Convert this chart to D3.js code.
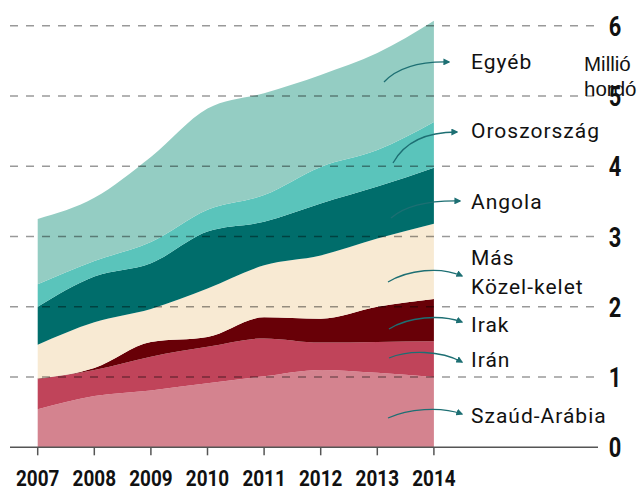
<!DOCTYPE html>
<html>
<head>
<meta charset="utf-8">
<script src="https://cdn.jsdelivr.net/npm/d3@7"></script>
<style>
  body { margin: 0; background: #fff; }
  .num { font-family: Roboto, "DejaVu Sans", sans-serif; font-weight: bold; fill: #111; }
  .lab { font-family: Roboto, "DejaVu Sans", sans-serif; font-size: 21px; letter-spacing: 1px; fill: #111; }
</style>
</head>
<body>
<div id="chart"></div>
<script>
// data (million barrels per day)
var years = [2007, 2008, 2009, 2010, 2011, 2012, 2013, 2014];
var szaud  = [0.54, 0.73, 0.81, 0.91, 1.01, 1.10, 1.06, 1.00];
var iran   = [0.43, 0.37, 0.48, 0.52, 0.54, 0.39, 0.44, 0.51];
var irak   = [0.01, 0.03, 0.21, 0.14, 0.30, 0.34, 0.50, 0.60];
var kozel  = [0.48, 0.65, 0.47, 0.69, 0.74, 0.90, 0.97, 1.07];
var angola = [0.54, 0.65, 0.65, 0.81, 0.62, 0.74, 0.74, 0.80];
var orosz  = [0.32, 0.22, 0.30, 0.31, 0.38, 0.52, 0.52, 0.65];
var egyeb  = [0.93, 0.90, 1.21, 1.44, 1.45, 1.31, 1.38, 1.44];
var seriesNames = ['Szaúd-Arábia', 'Irán', 'Irak', 'Más Közel-kelet', 'Angola', 'Oroszország', 'Egyéb'];
var yTicks = [0, 1, 2, 3, 4, 5, 6];

var colors = ['#d4838f', '#c0445a', '#680007', '#f8ead3', '#006d6b', '#5ac4bb', '#94cdc3'];

var width = 638, height = 488;
var svg = d3.select('#chart').append('svg')
  .attr('width', width)
  .attr('height', height);

var x = d3.scaleLinear().domain([2007, 2014]).range([37.7, 433.9]);
var y = d3.scaleLinear().domain([0, 6]).range([447.3, 25.7]);

// build table for the stack
var cols = [szaud, iran, irak, kozel, angola, orosz, egyeb];
var table = years.map(function(yr, i) {
  var row = {year: yr};
  seriesNames.forEach(function(n, j) { row[n] = cols[j][i]; });
  return row;
});
var stacked = d3.stack().keys(seriesNames)(table);

var area = d3.area()
  .curve(d3.curveMonotoneX)
  .x(function(d) { return x(d.data.year); })
  .y0(function(d) { return y(d[0]); })
  .y1(function(d) { return y(d[1]); });

svg.append('g').selectAll('path')
  .data(stacked)
  .join('path')
  .attr('d', area)
  .attr('fill', function(d, i) { return colors[i]; });

// dashed gridlines drawn over the areas
svg.append('g').selectAll('line')
  .data(yTicks.filter(function(t) { return t > 0; }))
  .join('line')
  .attr('x1', 10).attr('x2', 598)
  .attr('y1', function(d) { return y(d); })
  .attr('y2', function(d) { return y(d); })
  .attr('stroke', '#000')
  .attr('stroke-opacity', 0.4)
  .attr('stroke-width', 1.4)
  .attr('stroke-dasharray', '8,8');

// x axis
svg.append('line')
  .attr('x1', 10).attr('x2', 598)
  .attr('y1', y(0)).attr('y2', y(0))
  .attr('stroke', '#555').attr('stroke-width', 1.5);

svg.append('g').selectAll('line')
  .data(years)
  .join('line')
  .attr('x1', function(d) { return x(d); })
  .attr('x2', function(d) { return x(d); })
  .attr('y1', y(0)).attr('y2', y(0) + 8)
  .attr('stroke', '#555').attr('stroke-width', 1.5);

// condensed look: squeeze the digits horizontally
svg.append('g').selectAll('text')
  .data(years)
  .join('text')
  .attr('class', 'num')
  .attr('transform', function(d) { return 'translate(' + x(d) + ',486) scale(0.86,1)'; })
  .attr('text-anchor', 'middle')
  .style('font-size', '22px')
  .text(function(d) { return d; });

// y labels on the right
svg.append('g').selectAll('text')
  .data(yTicks)
  .join('text')
  .attr('class', 'num')
  .attr('transform', function(d) { return 'translate(615,' + (y(d) + 10) + ') scale(0.78,1)'; })
  .attr('text-anchor', 'middle')
  .style('font-size', '28px')
  .text(function(d) { return d; });

svg.append('text')
  .attr('x', 584).attr('y', 71)
  .style('font-family', '"Liberation Sans", Arial, sans-serif')
  .style('font-size', '20.5px')
  .attr('fill', '#111')
  .text('Millió');
svg.append('text')
  .attr('x', 584).attr('y', 96)
  .style('font-family', '"Liberation Sans", Arial, sans-serif')
  .style('font-size', '20.5px')
  .attr('fill', '#111')
  .text('hordó');

// labels with curved arrows
var notes = [
  {lines: ['Egyéb'], ty: 69, path: 'M384,82 Q404,61 449,62'},
  {lines: ['Oroszország'], ty: 138, path: 'M393,163 Q410,132 457,132'},
  {lines: ['Angola'], ty: 209, path: 'M391,218 Q412,200 460,201'},
  {lines: ['Más', 'Közel-kelet'], ty: 265, path: 'M388,282 C408,270 440,266 462,276'},
  {lines: ['Irak'], ty: 332, path: 'M389,329 C408,317 440,314 462,322'},
  {lines: ['Irán'], ty: 367, path: 'M389,358 C408,350 440,350 462,362'},
  {lines: ['Szaúd-Arábia'], ty: 423, path: 'M388,418 C408,409 440,406 462,414'}
];

svg.append('defs').append('marker')
  .attr('id', 'arr')
  .attr('viewBox', '0 0 10 10')
  .attr('refX', 8).attr('refY', 5)
  .attr('markerWidth', 7).attr('markerHeight', 7)
  .attr('markerUnits', 'userSpaceOnUse')
  .attr('orient', 'auto')
  .append('path')
  .attr('d', 'M0,0 L10,5 L0,10 Z')
  .attr('fill', '#1d6f73');

svg.append('g').selectAll('path')
  .data(notes)
  .join('path')
  .attr('d', function(d) { return d.path; })
  .attr('fill', 'none')
  .attr('stroke', '#1d6f73')
  .attr('stroke-width', 1.3)
  .attr('marker-end', 'url(#arr)');

notes.forEach(function(n) {
  n.lines.forEach(function(t, k) {
    svg.append('text')
      .attr('class', 'lab')
      .attr('x', 471)
      .attr('y', n.ty + k * 28.5)
      .text(t);
  });
});
</script>
</body>
</html>
